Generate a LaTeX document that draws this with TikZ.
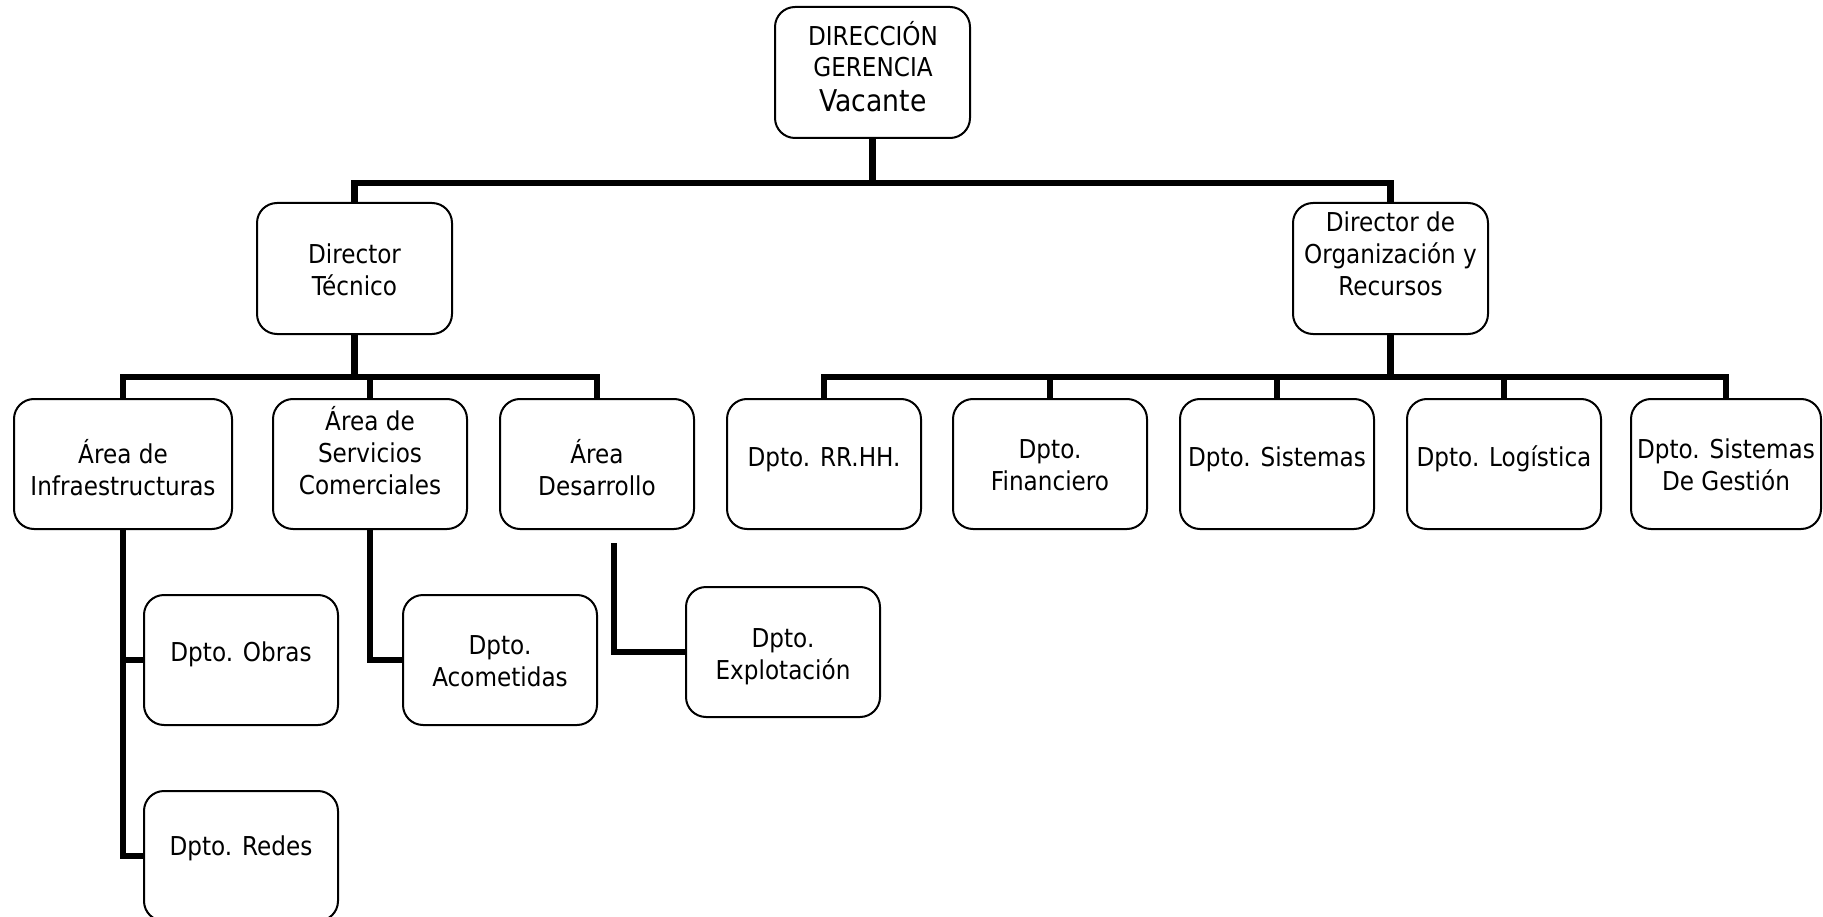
\documentclass[tikz,border=0pt]{standalone}
\usepackage{fontspec}
\setmainfont{DejaVu Sans}[FakeStretch=0.89]
\begin{document}
\begin{tikzpicture}[x=1pt,y=-1pt,
  box/.style={draw=black, line width=2pt, rounded corners=20pt, rectangle, inner sep=0pt,
              minimum width=194pt, minimum height=130pt},
  lbl/.style={anchor=north, inner sep=0pt, align=center,
              font=\fontsize{26}{32}\selectfont, execute at begin node={\rule{0pt}{26pt}}},
  conn/.style={line width=6.5pt, line join=miter, line cap=butt},
]
\useasboundingbox (0,0) rectangle (1823,917);

% ---- boxes ----
\node[box, minimum width=195pt, minimum height=131pt] (gerencia) at (872.5,72.5) {};
\node[box, minimum width=195pt, minimum height=131pt] (dt)  at (354.5,268.5) {};
\node[box, minimum width=195pt, minimum height=131pt] (org) at (1390.5,268.5) {};

\node[box, minimum width=218pt] (infra) at (123,464) {};
\node[box] (serv) at (370,464) {};
\node[box] (desa) at (597,464) {};
\node[box] (rrhh) at (824,464) {};
\node[box] (fin)  at (1050,464) {};
\node[box] (sis)  at (1277,464) {};
\node[box] (log)  at (1504,464) {};
\node[box, minimum width=190pt] (sg) at (1726,464) {};

\node[box] (obras) at (241,660) {};
\node[box] (redes) at (241,856) {};
\node[box] (acom)  at (500,660) {};
\node[box] (explo) at (783,652) {};

% ---- texts ----
\node[lbl, font=\fontsize{26}{31}\selectfont] (t-gerencia) at (873,21)
  {DIRECCIÓN\\GERENCIA\\[4pt]{\fontsize{30}{36}\selectfont Vacante}};
\node[lbl] (t-dt)  at (354.5,244) {Director\\Técnico};
\node[lbl] (t-org) at (1390.5,212) {Director de\\Organización y\\Recursos};

\node[lbl] (t-infra) at (123,439) {Área de\\Infraestructuras};
\node[lbl] (t-serv)  at (370,406) {Área de\\Servicios\\Comerciales};
\node[lbl] (t-desa)  at (597,439) {Área\\Desarrollo};
\node[lbl] (t-rrhh)  at (824,440) {Dpto. RR.HH.};
\node[lbl] (t-fin)   at (1050,439) {Dpto.\\Financiero};
\node[lbl] (t-sis)   at (1277,440) {Dpto. Sistemas};
\node[lbl] (t-log)   at (1504,440) {Dpto. Logística};
\node[lbl] (t-sg)    at (1726,439) {Dpto. Sistemas\\De Gestión};

\node[lbl] (t-obras) at (241,635) {Dpto. Obras};
\node[lbl] (t-redes) at (241,829) {Dpto. Redes};
\node[lbl] (t-acom)  at (500,635) {Dpto.\\Acometidas};
\node[lbl] (t-explo) at (783,628) {Dpto.\\Explotación};

% ---- connectors ----
\coordinate (busTop) at (0,183);
\coordinate (busL) at (0,377);
\coordinate (desaStub) at (614,543);

\draw[conn] (gerencia.south) -- (gerencia.south |- busTop);
\draw[conn] (dt.north) |- (org.north |- busTop) -- (org.north);

\draw[conn] (dt.south) -- (dt.south |- busL);
\draw[conn] (infra.north) |- (desa.north |- busL) -- (desa.north);
\draw[conn] (serv.north) -- (serv.north |- busL);

\draw[conn] (org.south) -- (org.south |- busL);
\draw[conn] (rrhh.north) |- (sg.north |- busL) -- (sg.north);
\draw[conn] (fin.north) -- (fin.north |- busL);
\draw[conn] (sis.north) -- (sis.north |- busL);
\draw[conn] (log.north) -- (log.north |- busL);

\draw[conn] (infra.south) |- (redes.west);
\draw[conn] (infra.south |- obras.west) -- (obras.west);
\draw[conn] (serv.south) |- (acom.west);
\draw[conn] (desaStub) |- (explo.west);
\end{tikzpicture}
\end{document}
